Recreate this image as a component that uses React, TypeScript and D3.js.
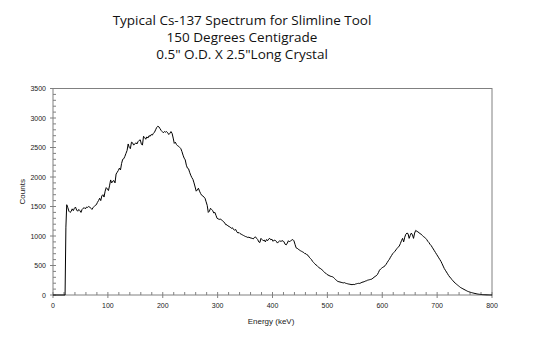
import React from "react";
import * as d3 from "d3";

const titleLines = [
  "Typical Cs-137 Spectrum for Slimline Tool",
  "150 Degrees Centigrade",
  "0.5\" O.D. X 2.5\"Long Crystal",
];
const xLabel = "Energy (keV)";
const yLabel = "Counts";
const xTicks = [0, 100, 200, 300, 400, 500, 600, 700, 800];
const yTicks = [0, 500, 1000, 1500, 2000, 2500, 3000, 3500];

// [energy keV, counts]
const spectrum: [number, number][] = [
  [0, 0], [22, 0], [23.5, 1150], [25, 1530],
  [27, 1480], [29, 1420], [31, 1400], [33, 1415], [35, 1460], [37, 1430], [39, 1470],
  [41, 1490], [43, 1440], [45, 1420], [47, 1450], [49, 1430], [51, 1400], [53, 1450],
  [55, 1470], [57, 1480], [59, 1460], [61, 1490], [63, 1485], [65, 1500], [67, 1490],
  [69, 1470], [71, 1450], [73, 1480], [75, 1500], [77, 1520], [79, 1530], [81, 1570],
  [83, 1600], [85, 1640], [87, 1600], [89, 1680], [91, 1700], [93, 1660], [95, 1760],
  [97, 1820], [99, 1800], [101, 1770], [103, 1850], [105, 1950], [107, 1900], [109, 1930],
  [111, 1940], [113, 1900], [115, 2050], [117, 2080], [119, 2110], [121, 2150], [123, 2120],
  [125, 2230], [127, 2300], [129, 2310], [131, 2350], [133, 2400], [135, 2450], [137, 2560],
  [139, 2500], [141, 2480], [143, 2590], [145, 2580], [147, 2540], [149, 2560], [151, 2580],
  [153, 2560], [155, 2600], [157, 2620], [159, 2630], [161, 2560], [163, 2540], [165, 2690],
  [167, 2670], [169, 2640], [171, 2680], [173, 2660], [175, 2700], [177, 2690], [179, 2720],
  [181, 2710], [183, 2740], [185, 2760], [187, 2800], [189, 2840], [191, 2860], [193, 2850],
  [195, 2820], [197, 2790], [199, 2770], [201, 2750], [203, 2770], [205, 2760], [207, 2770],
  [209, 2750], [211, 2720], [213, 2740], [215, 2770], [217, 2740], [219, 2660], [221, 2570],
  [223, 2590], [225, 2550], [227, 2530], [229, 2520], [231, 2500], [233, 2480], [235, 2430],
  [237, 2370], [239, 2320], [241, 2290], [243, 2200], [245, 2150], [247, 2140], [249, 2080],
  [251, 2030], [253, 1990], [255, 1960], [257, 1900], [259, 1830], [261, 1760], [263, 1780],
  [265, 1810], [267, 1760], [269, 1720], [271, 1690], [273, 1680], [275, 1660], [277, 1640],
  [279, 1580], [281, 1520], [283, 1400], [285, 1420], [287, 1470], [289, 1450], [291, 1430],
  [293, 1390], [295, 1400], [297, 1350], [299, 1300], [301, 1290], [303, 1280], [305, 1290],
  [307, 1270], [309, 1260], [311, 1240], [313, 1220], [315, 1190], [317, 1190], [319, 1170],
  [321, 1160], [323, 1150], [325, 1130], [327, 1140], [329, 1110], [331, 1100], [333, 1110],
  [335, 1070], [337, 1050], [339, 1060], [341, 1040], [343, 1030], [345, 1020], [347, 1010],
  [349, 1000], [351, 990], [353, 985], [355, 975], [357, 980], [359, 970], [361, 965],
  [363, 960], [365, 950], [367, 975], [369, 985], [371, 960], [373, 940], [375, 900],
  [377, 890], [379, 960], [381, 940], [383, 920], [385, 930], [387, 900], [389, 940],
  [391, 920], [393, 950], [395, 960], [397, 935], [399, 945], [401, 910], [403, 930],
  [405, 925], [407, 910], [409, 880], [411, 900], [413, 920], [415, 910], [417, 915],
  [419, 920], [421, 900], [423, 860], [425, 850], [427, 880], [429, 920], [431, 900],
  [433, 920], [435, 930], [437, 940], [439, 920], [441, 860], [443, 800], [445, 790],
  [447, 780], [449, 760], [451, 750], [453, 740], [455, 730], [457, 720], [459, 700],
  [461, 700], [463, 680], [465, 670], [467, 640], [469, 620], [471, 600], [473, 570],
  [475, 550], [477, 530], [479, 510], [481, 500], [483, 480], [485, 460], [487, 450],
  [489, 440], [491, 420], [493, 400], [495, 380], [497, 370], [499, 350], [501, 340],
  [503, 330], [505, 320], [507, 315], [509, 310], [511, 300], [513, 280], [515, 260],
  [517, 245], [519, 230], [521, 225], [523, 220], [525, 215], [527, 210], [529, 205],
  [531, 210], [533, 200], [535, 195], [537, 190], [539, 185], [541, 182], [543, 178],
  [545, 175], [547, 180], [549, 176], [551, 185], [553, 190], [555, 195], [557, 198],
  [559, 196], [561, 205], [563, 215], [565, 220], [567, 225], [569, 235], [571, 240],
  [573, 250], [575, 255], [577, 260], [579, 265], [581, 270], [583, 285], [585, 300],
  [587, 315], [589, 325], [591, 345], [593, 380], [595, 420], [597, 440], [599, 455],
  [601, 470], [603, 480], [605, 495], [607, 520], [609, 550], [611, 580], [613, 605],
  [615, 640], [617, 670], [619, 700], [621, 720], [623, 740], [625, 765], [627, 790],
  [629, 810], [631, 830], [633, 870], [635, 920], [637, 960], [639, 900], [641, 980],
  [643, 1030], [645, 1050], [647, 1040], [649, 960], [651, 1010], [653, 1050], [655, 1020],
  [657, 960], [659, 1050], [661, 1095], [663, 1080], [665, 1070], [667, 1055], [669, 1040],
  [671, 1030], [673, 1010], [675, 990], [677, 980], [679, 960], [681, 940], [683, 910],
  [685, 890], [687, 860], [689, 840], [691, 810], [693, 780], [695, 750], [697, 720],
  [699, 690], [701, 660], [703, 630], [705, 600], [707, 570], [709, 530], [711, 490],
  [713, 450], [715, 420], [717, 390], [719, 360], [721, 330], [723, 305], [725, 285],
  [727, 260], [729, 240], [731, 220], [733, 200], [735, 185], [737, 170], [739, 155],
  [741, 140], [743, 125], [745, 115], [747, 105], [749, 95], [751, 85], [753, 75],
  [755, 65], [757, 58], [759, 52], [761, 45], [763, 40], [765, 35], [767, 30],
  [769, 26], [771, 22], [773, 18], [775, 15], [777, 12], [779, 10], [781, 8],
  [783, 6], [785, 5], [787, 4], [789, 3], [791, 2], [793, 2], [795, 1], [797, 1], [800, 0],
];

const W = 535;
const H = 349;
const m = { left: 53, right: 492, top: 88.5, bottom: 295 };

export default function App() {
  const x = d3.scaleLinear().domain([0, 800]).range([m.left, m.right]);
  const y = d3.scaleLinear().domain([0, 3500]).range([m.bottom, m.top]);
  const line = d3
    .line<[number, number]>()
    .x((d) => x(d[0]))
    .y((d) => y(d[1]));
  const xMinor = d3.range(0, 801, 20).filter((v) => v % 100 !== 0);
  const yMinor = d3.range(0, 3501, 100).filter((v) => v % 500 !== 0);
  const axisColor = "#808080";
  const tickFont = "Liberation Sans, Arial, sans-serif";

  return (
    <svg
      width={W}
      height={H}
      style={{ position: "absolute", left: 0, top: 0, background: "#fff" }}
    >
      <g fontFamily="Open Sans, sans-serif" fontSize={13.5} fill="#111" textAnchor="middle">
        {titleLines.map((t, i) => (
          <text key={i} x={242} y={25 + i * 17}>
            {t}
          </text>
        ))}
      </g>
      <rect
        x={m.left}
        y={m.top}
        width={m.right - m.left}
        height={m.bottom - m.top}
        fill="none"
        stroke={axisColor}
        strokeWidth={1}
      />
      {xMinor.map((v) => (
        <line key={"xm" + v} x1={x(v)} x2={x(v)} y1={m.bottom} y2={m.bottom - 3} stroke={axisColor} />
      ))}
      {xTicks.map((v) => (
        <line key={"xt" + v} x1={x(v)} x2={x(v)} y1={m.bottom - 3} y2={m.bottom + 3} stroke={axisColor} />
      ))}
      {yMinor.map((v) => (
        <line key={"ym" + v} x1={m.left} x2={m.left + 3} y1={y(v)} y2={y(v)} stroke={axisColor} />
      ))}
      {yTicks.map((v) => (
        <line key={"yt" + v} x1={m.left - 3} x2={m.left + 3} y1={y(v)} y2={y(v)} stroke={axisColor} />
      ))}
      <g fontFamily={tickFont} fontSize={7} fill="#222">
        {xTicks.map((v) => (
          <text key={"xl" + v} x={x(v)} y={308} textAnchor="middle">
            {v}
          </text>
        ))}
        {yTicks.map((v) => (
          <text key={"yl" + v} x={m.left - 7} y={y(v) + 2.5} textAnchor="end">
            {v}
          </text>
        ))}
      </g>
      <text x={271} y={324} textAnchor="middle" fontFamily={tickFont} fontSize={8} fill="#222">
        {xLabel}
      </text>
      <text
        transform={`translate(25,${(m.top + m.bottom) / 2}) rotate(-90)`}
        textAnchor="middle"
        fontFamily={tickFont}
        fontSize={8}
        fill="#222"
      >
        {yLabel}
      </text>
      <path d={line(spectrum) || ""} fill="none" stroke="#000" strokeWidth={1} />
    </svg>
  );
}
